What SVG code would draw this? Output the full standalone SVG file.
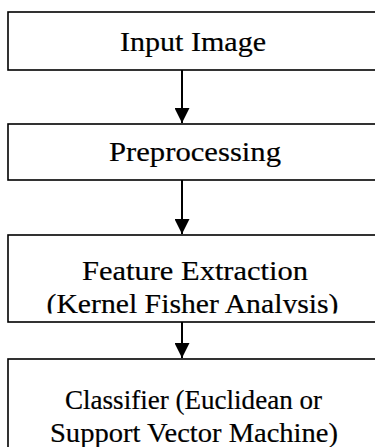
<svg xmlns="http://www.w3.org/2000/svg" width="375" height="447" viewBox="0 0 375 447">
<style>
.box{fill:#fff;stroke:#000;stroke-width:1.6}
.lbl{font-family:"Liberation Serif","DejaVu Serif",serif;font-size:28px;fill:#000;text-anchor:middle;stroke:#000;stroke-width:0.2}
.edge{stroke:#000;stroke-width:2;fill:none}
</style>
<defs>
<marker id="arr" viewBox="0 0 15 15" refX="15" refY="7.5" markerWidth="15" markerHeight="15" markerUnits="userSpaceOnUse" orient="auto">
<path d="M0,0 L15,7.5 L0,15 Z" fill="#000"/>
</marker>
<clipPath id="clip3"><rect x="0" y="235" width="375" height="78.5"/></clipPath>
</defs>
<rect width="375" height="447" fill="#fff"/>
<g id="n1">
<rect class="box" x="8" y="12" width="380" height="58"/>
<text class="lbl" x="193" y="51" textLength="146" lengthAdjust="spacingAndGlyphs">Input Image</text>
</g>
<g id="n2">
<rect class="box" x="8" y="124" width="380" height="56"/>
<text class="lbl" x="195" y="161" textLength="172" lengthAdjust="spacingAndGlyphs">Preprocessing</text>
</g>
<g id="n3">
<rect class="box" x="8" y="235" width="380" height="87"/>
<g clip-path="url(#clip3)">
<text class="lbl" x="195" y="280" textLength="226" lengthAdjust="spacingAndGlyphs">Feature Extraction</text>
<text class="lbl" x="192.5" y="313" textLength="292" lengthAdjust="spacingAndGlyphs">(Kernel Fisher Analysis)</text>
</g>
</g>
<g id="n4">
<rect class="box" x="8" y="359" width="380" height="100"/>
<text class="lbl" x="193.5" y="409" textLength="257" lengthAdjust="spacingAndGlyphs">Classifier (Euclidean or</text>
<text class="lbl" x="194" y="442" textLength="288" lengthAdjust="spacingAndGlyphs">Support Vector Machine)</text>
</g>
<g id="edges">
<line class="edge" x1="182" y1="70" x2="182" y2="123" marker-end="url(#arr)"/>
<line class="edge" x1="182" y1="180" x2="182" y2="234" marker-end="url(#arr)"/>
<line class="edge" x1="182" y1="322" x2="182" y2="358" marker-end="url(#arr)"/>
</g>
</svg>
